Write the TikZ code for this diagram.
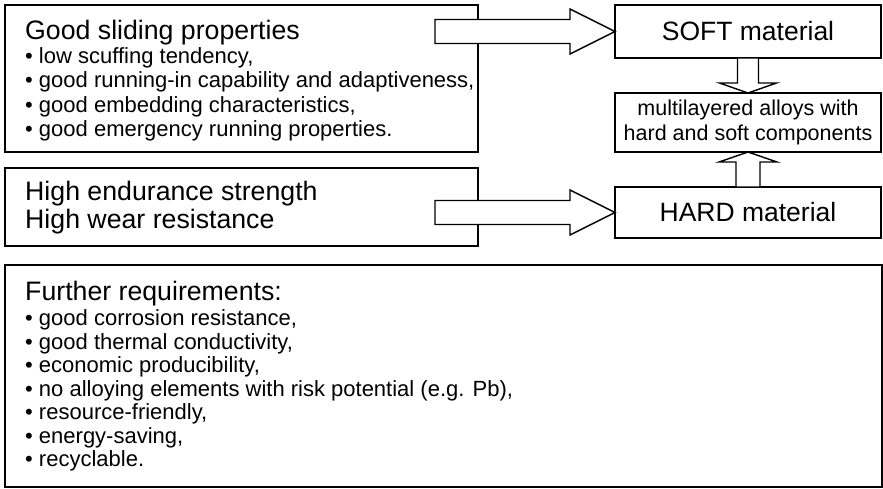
\documentclass[tikz,border=0pt]{standalone}
\usepackage{fontspec}
\setmainfont{Liberation Sans}
\begin{document}
\begin{tikzpicture}[x=1pt,y=-1pt,
  box/.style={draw=black,line width=1.8pt,inner sep=0pt,outer sep=0pt,fill=white},
  barrow/.style={draw=black,line width=1.4pt,fill=white,line join=miter},
  head/.style={inner sep=0pt,anchor=base west,font=\fontsize{26.7}{30}\selectfont},
  bul/.style={inner sep=0pt,anchor=base west,font=\fontsize{22}{24}\selectfont},
  mid/.style={font=\fontsize{26.5}{30}\selectfont}]
\useasboundingbox[fill=white] (0,0) rectangle (883,488);

% boxes
\node[box,minimum width=473pt,minimum height=147pt] (slide) at (241.5,78.5) {};
\node[box,minimum width=473pt,minimum height=78pt] (endur) at (241.5,207) {};
\node[box,minimum width=877pt,minimum height=222pt] (further) at (443.5,376) {};
\node[box,minimum width=266pt,minimum height=53pt,mid] (soft) at (748,31.5) {SOFT material};
\node[box,minimum width=266pt,minimum height=59pt,align=center,
      font=\fontsize{21.5}{24.5}\selectfont] (multi) at (748,122.5)
      {multilayered alloys with\\hard and soft components};
\node[box,minimum width=266pt,minimum height=51pt,mid] (hard) at (748,212.5) {HARD material};

% texts of the left boxes
\node[head] (slidehead) at (25,39) {Good sliding properties};
\foreach \t [count=\i] in {{low scuffing tendency,},
    {good running-in capability and adaptiveness,},
    {good embedding characteristics,},
    {good emergency running properties.}}
  \node[bul] (slide\i) at (25,{63+24.5*(\i-1)}) {• \t};

\node[head] (endur1) at (25,200) {High endurance strength};
\node[head] (endur2) at (25,228) {High wear resistance};

\node[head] (furtherhead) at (25,300) {Further requirements:};
\foreach \t [count=\i] in {{good corrosion resistance,},
    {good thermal conductivity,},
    {economic producibility,},
    {no alloying elements with risk potential (e.g. Pb),},
    {resource-friendly,},
    {energy-saving,},
    {recyclable.}}
  \node[bul] (further\i) at (25,{325.5+23.5*(\i-1)}) {• \t};

% block arrows
\draw[barrow] (soft.west) -- ++(-45,-22.5) -- ++(0,10.5) -- ++(-135,0)
  -- ++(0,24) -- ++(135,0) -- ++(0,10.5) -- cycle;
\draw[barrow] (hard.west) -- ++(-45,-22.5) -- ++(0,10.5) -- ++(-135,0)
  -- ++(0,24) -- ++(135,0) -- ++(0,10.5) -- cycle;
\draw[barrow] (multi.north) -- ++(28.5,-10) -- ++(-18,0) -- ++(0,-25)
  -- ++(-21,0) -- ++(0,25) -- ++(-18,0) -- cycle;
\draw[barrow] (multi.south) -- ++(29,10) -- ++(-17,0) -- ++(0,25)
  -- ++(-24,0) -- ++(0,-25) -- ++(-17,0) -- cycle;
\end{tikzpicture}
\end{document}
